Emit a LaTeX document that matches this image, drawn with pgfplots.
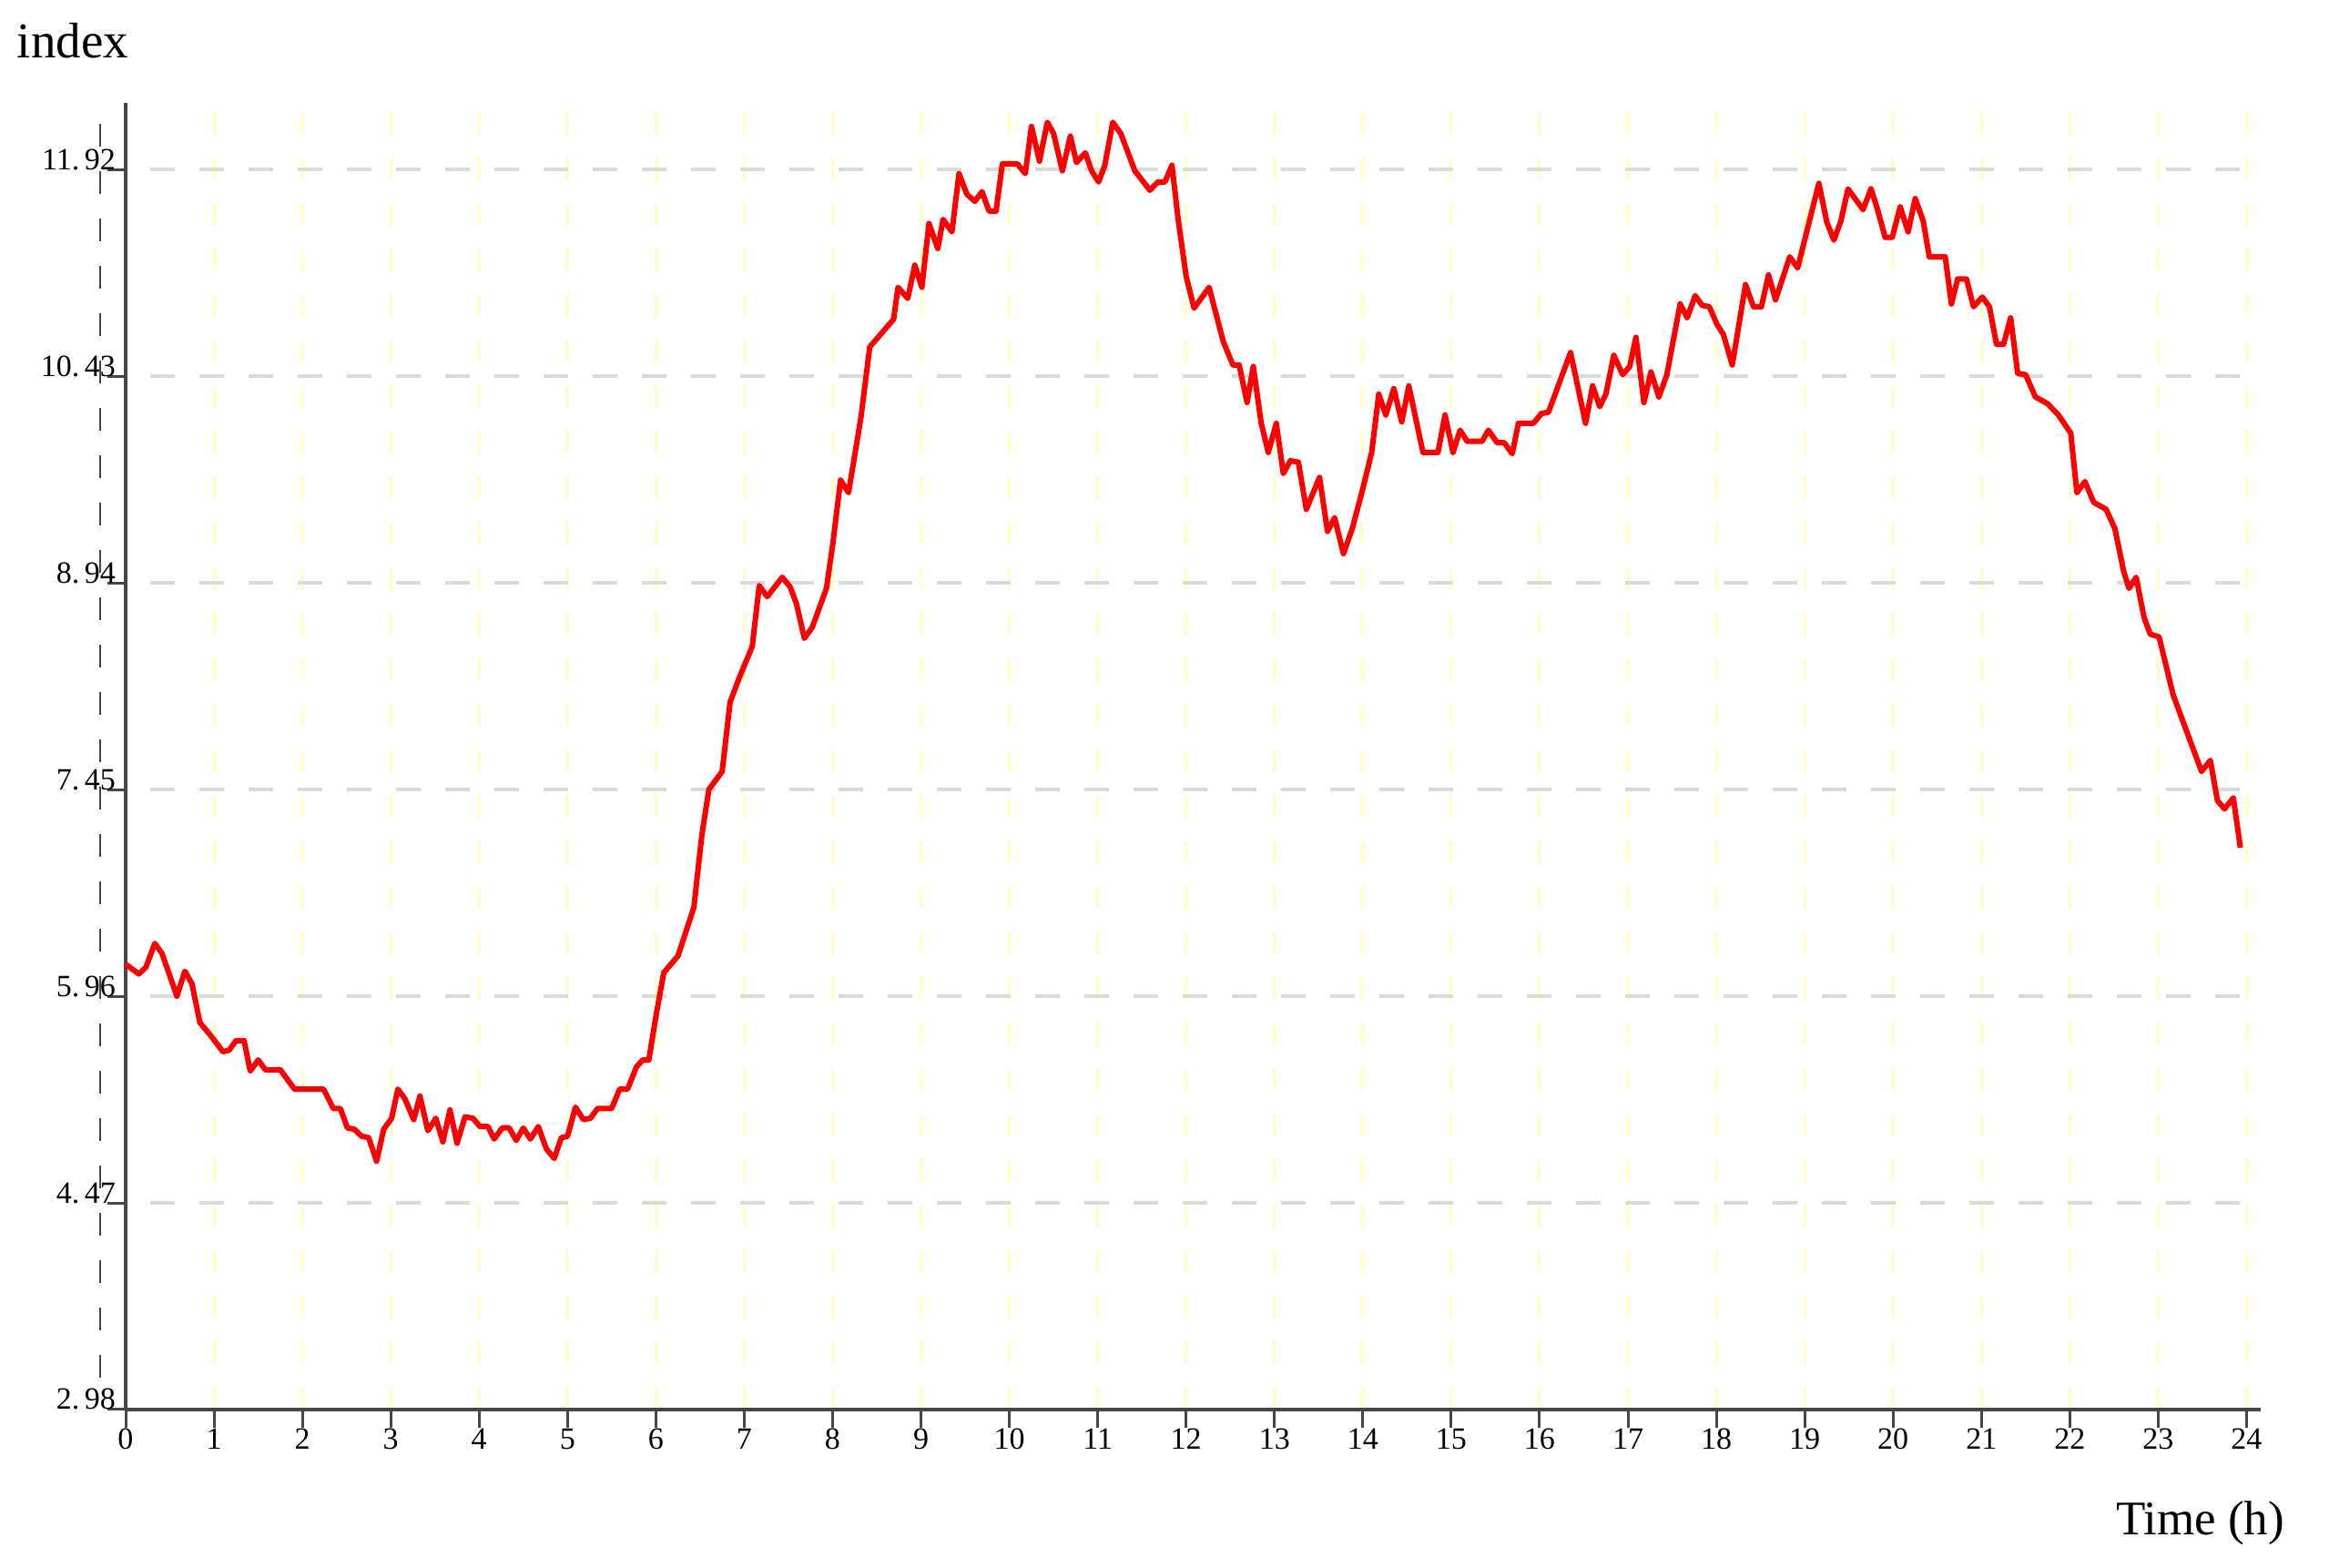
\documentclass[border=0pt]{standalone}
\usepackage{fontspec}
\setmainfont{Liberation Serif}
\usepackage{pgfplots}
\pgfplotsset{compat=1.18}
\definecolor{gridgray}{RGB}{218,218,218}
\definecolor{gridyellow}{RGB}{255,255,190}
\definecolor{axisgray}{RGB}{70,70,70}
\begin{document}
\begin{tikzpicture}
\path[use as bounding box] (0,0) rectangle (511.6pt,344.4pt);
\begin{axis}[
  at={(27.6pt,34.8pt)}, anchor=south west,
  scale only axis, width=469pt, height=287pt,
  xmin=0, xmax=24.16, ymin=2.98, ymax=12.40,
  axis lines=left,
  axis line style={-, draw=axisgray, line width=0.7pt},
  xtick={0,1,...,24},
  xticklabels={0,1,2,3,4,5,6,7,8,9,10,11,12,13,14,15,16,17,18,19,20,21,22,23,24},
  ytick={2.98,4.47,5.96,7.45,8.94,10.43,11.92},
  yticklabels={2.\,98,4.\,47,5.\,96,7.\,45,8.\,94,10.\,43,11.\,92},
  tick align=outside, major tick length=4pt,
  tick style={draw=axisgray, line width=0.6pt},
  xmajorgrids, ymajorgrids,
  x grid style={draw=gridyellow, line width=0.6pt, dash pattern=on 5pt off 5pt},
  y grid style={draw=gridgray, line width=0.8pt, dash pattern=on 5.4pt off 5.4pt, dash phase=5.4pt},
  tick label style={font=\fontsize{6.8}{7}\selectfont},
  yticklabel style={anchor=base east, inner sep=0pt, xshift=2pt},
  xticklabel style={anchor=north, inner sep=0pt},
  clip=false,
  xlabel={Time (h)}, ylabel={index},
  every axis x label/.style={at={(rel axis cs:0.9318,-0.0955)}, anchor=base west,
    inner sep=0pt, font=\fontsize{10.6}{12}\selectfont},
  every axis y label/.style={at={(rel axis cs:-0.0512,1.0348)}, anchor=base west,
    inner sep=0pt, font=\fontsize{11}{13}\selectfont},
]
% stray dashed guide left of the y axis
\draw[axisgray, line width=0.4pt, dash pattern=on 5pt off 5.4pt]
  (axis cs:-0.288,12.25) -- (axis cs:-0.288,3.10);
\addplot[red, line width=1.2pt, line join=round] coordinates {
(0.00,6.19)(0.15,6.12)(0.23,6.17)(0.33,6.34)(0.41,6.27)(0.58,5.96)(0.67,6.14)(0.75,6.05)
(0.84,5.77)(0.97,5.67)(1.10,5.56)(1.17,5.57)(1.25,5.64)(1.34,5.64)(1.41,5.42)(1.50,5.50)
(1.58,5.43)(1.75,5.43)(1.91,5.29)(2.24,5.29)(2.35,5.15)(2.43,5.15)(2.51,5.01)(2.59,5.00)
(2.67,4.95)(2.75,4.94)(2.84,4.77)(2.92,5.00)(3.01,5.08)(3.08,5.29)(3.16,5.22)(3.26,5.07)
(3.33,5.24)(3.42,4.99)(3.51,5.08)(3.59,4.91)(3.67,5.14)(3.75,4.90)(3.84,5.09)(3.93,5.08)
(4.01,5.02)(4.10,5.02)(4.17,4.93)(4.26,5.01)(4.34,5.01)(4.42,4.92)(4.50,5.01)(4.58,4.93)
(4.67,5.02)(4.76,4.86)(4.85,4.79)(4.93,4.94)(5.00,4.95)(5.09,5.16)(5.18,5.07)(5.26,5.08)
(5.34,5.15)(5.50,5.15)(5.59,5.29)(5.68,5.29)(5.78,5.45)(5.85,5.50)(5.92,5.50)(6.01,5.85)
(6.09,6.13)(6.25,6.25)(6.43,6.60)(6.52,7.12)(6.60,7.45)(6.75,7.58)(6.84,8.08)(6.94,8.25)
(7.09,8.48)(7.17,8.92)(7.26,8.84)(7.43,8.98)(7.52,8.91)(7.59,8.79)(7.68,8.54)(7.77,8.62)
(7.93,8.90)(8.00,9.21)(8.09,9.68)(8.18,9.59)(8.32,10.13)(8.42,10.64)(8.69,10.84)(8.74,11.07)
(8.85,10.99)(8.93,11.23)(9.01,11.07)(9.09,11.53)(9.19,11.35)(9.25,11.56)(9.35,11.47)(9.43,11.89)
(9.52,11.74)(9.61,11.69)(9.69,11.76)(9.77,11.62)(9.85,11.62)(9.92,11.96)(10.09,11.96)(10.18,11.89)
(10.25,12.23)(10.34,11.98)(10.43,12.26)(10.50,12.18)(10.60,11.91)(10.69,12.16)(10.76,11.97)(10.86,12.04)
(10.93,11.91)(11.01,11.83)(11.08,11.95)(11.17,12.26)(11.26,12.18)(11.42,11.91)(11.59,11.77)(11.68,11.83)
(11.76,11.83)(11.84,11.95)(11.91,11.56)(12.00,11.15)(12.09,10.92)(12.26,11.07)(12.42,10.68)(12.53,10.51)
(12.60,10.51)(12.69,10.24)(12.76,10.50)(12.85,10.09)(12.93,9.88)(13.02,10.09)(13.10,9.73)(13.18,9.82)
(13.27,9.81)(13.36,9.47)(13.51,9.70)(13.60,9.31)(13.68,9.41)(13.78,9.15)(13.88,9.33)(14.00,9.62)
(14.10,9.88)(14.18,10.30)(14.26,10.15)(14.35,10.34)(14.44,10.10)(14.52,10.36)(14.68,9.88)(14.85,9.88)
(14.93,10.15)(15.02,9.88)(15.10,10.04)(15.18,9.96)(15.35,9.96)(15.42,10.04)(15.52,9.95)(15.60,9.95)
(15.69,9.87)(15.76,10.09)(15.93,10.09)(16.02,10.16)(16.10,10.17)(16.35,10.60)(16.52,10.09)(16.60,10.36)
(16.68,10.21)(16.75,10.30)(16.84,10.58)(16.94,10.44)(17.02,10.50)(17.09,10.71)(17.18,10.24)(17.26,10.46)
(17.35,10.28)(17.44,10.44)(17.59,10.95)(17.67,10.85)(17.76,11.01)(17.84,10.94)(17.92,10.93)(18.01,10.80)
(18.08,10.73)(18.18,10.51)(18.33,11.09)(18.42,10.93)(18.51,10.93)(18.59,11.16)(18.67,10.98)(18.83,11.29)
(18.92,11.21)(19.16,11.82)(19.25,11.54)(19.33,11.41)(19.41,11.55)(19.49,11.78)(19.66,11.63)(19.75,11.78)
(19.82,11.64)(19.91,11.43)(19.99,11.43)(20.08,11.65)(20.17,11.47)(20.25,11.71)(20.34,11.55)(20.41,11.29)
(20.59,11.29)(20.66,10.95)(20.73,11.13)(20.83,11.13)(20.91,10.93)(21.01,11.00)(21.09,10.93)(21.17,10.66)
(21.25,10.66)(21.33,10.85)(21.41,10.45)(21.50,10.44)(21.61,10.28)(21.75,10.23)(21.87,10.15)(22.01,10.02)
(22.08,9.59)(22.17,9.67)(22.27,9.52)(22.41,9.47)(22.51,9.33)(22.61,9.02)(22.67,8.90)(22.75,8.98)
(22.84,8.69)(22.91,8.57)(23.01,8.55)(23.17,8.13)(23.49,7.58)(23.59,7.66)(23.67,7.37)(23.75,7.31)
(23.85,7.39)(23.93,7.03)
};
\end{axis}
\end{tikzpicture}
\end{document}
